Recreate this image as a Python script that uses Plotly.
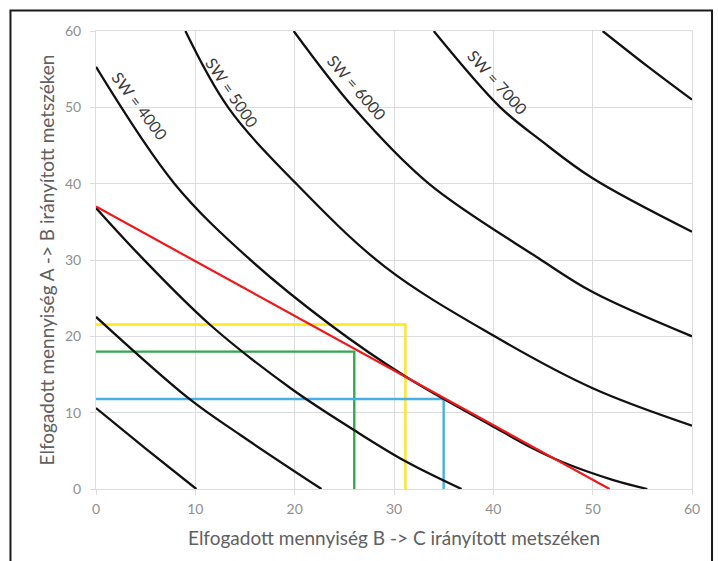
import plotly.graph_objects as go

# ---- data ----
c1_x = [0, 5.0, 10.1]
c1_y = [10.6, 5.3, 0]

c2_x = [0, 9.4, 14.5, 22.7]
c2_y = [22.55, 11.8, 7.1, 0]

c3_x = [0, 4.4, 11.45, 19.7, 26.0, 31.2, 36.8]
c3_y = [36.8, 30.6, 21.55, 13.1, 7.7, 3.6, 0]

sw4000_x = [0, 7.9, 15.3, 23.55, 31.2, 39.7, 44.0, 47.0, 52.0, 55.5]
sw4000_y = [55.3, 40.0, 30.3, 21.55, 14.7, 8.4, 5.3, 3.5, 1.2, 0]

sw5000_x = [9.0, 13.3, 20.0, 29.1, 40.0, 50.0, 60.0]
sw5000_y = [60.0, 50.0, 40.2, 29.1, 20.1, 13.2, 8.3]

sw6000_x = [19.9, 25.9, 33.5, 44.6, 50.0, 60.0]
sw6000_y = [60.0, 50.0, 40.0, 30.2, 25.8, 20.0]

sw7000_x = [34.0, 40.7, 44.75, 50.0, 60.0]
sw7000_y = [60.0, 50.0, 45.7, 40.7, 33.7]

c8_x = [51.0, 55.5, 60.0]
c8_y = [60.0, 55.4, 51.0]

red_x = [0, 51.7]
red_y = [37.0, 0]

box_names = ["yellow", "green", "blue"]
box_x = [31.15, 26.0, 35.0]
box_y = [21.55, 18.0, 11.8]
box_colors = ["#FFE61E", "#33A84E", "#45B0E6"]

label_text = ["SW = 4000", "SW = 5000", "SW = 6000", "SW = 7000"]
label_x = [4.4, 13.7, 26.3, 40.5]
label_y = [50.2, 51.9, 52.6, 53.3]
label_angle = [53, 56, 49, 48]

x_title = "Elfogadott mennyiség B -> C irányított metszéken"
y_title = "Elfogadott mennyiség A -> B irányított metszéken"
tick_vals = [0, 10, 20, 30, 40, 50, 60]

FONT = "Lato"

fig = go.Figure()

for bx, by, bc in zip(box_x, box_y, box_colors):
    fig.add_trace(go.Scatter(x=[0, bx, bx], y=[by, by, 0], mode="lines",
                             line=dict(color=bc, width=2.4), hoverinfo="skip",
                             showlegend=False))

for cx, cy in [(c1_x, c1_y), (c2_x, c2_y), (c3_x, c3_y), (sw4000_x, sw4000_y),
               (sw5000_x, sw5000_y), (sw6000_x, sw6000_y), (sw7000_x, sw7000_y),
               (c8_x, c8_y)]:
    fig.add_trace(go.Scatter(x=cx, y=cy, mode="lines",
                             line=dict(color="#111111", width=2.3, shape="spline", smoothing=1.0),
                             hoverinfo="skip", showlegend=False))

fig.add_trace(go.Scatter(x=red_x, y=red_y, mode="lines",
                         line=dict(color="#F01818", width=2.2),
                         hoverinfo="skip", showlegend=False))

for t, lx, ly, la in zip(label_text, label_x, label_y, label_angle):
    fig.add_annotation(x=lx, y=ly, text=t, textangle=la, showarrow=False,
                       font=dict(family=FONT, size=16, color="#3a3a3a"))

axis_common = dict(range=[0, 60], tickvals=tick_vals, showgrid=True,
                   gridcolor="#DCDCDC", gridwidth=1, zeroline=False,
                   showline=True, linecolor="#DCDCDC", linewidth=1, mirror=True,
                   ticks="outside", ticklen=5, tickcolor="#DCDCDC",
                   tickfont=dict(family=FONT, size=14, color="#8f8f8f"))

fig.update_xaxes(**axis_common, ticklabelstandoff=2,
                 title=dict(text=x_title, standoff=15,
                            font=dict(family=FONT, size=19, color="#606060")))
fig.update_yaxes(**axis_common, ticklabelstandoff=6,
                 title=dict(text=y_title, standoff=5,
                            font=dict(family=FONT, size=19, color="#606060")))

# outer frame
fig.add_shape(type="rect", xref="paper", yref="paper",
              x0=-0.1435, x1=1.0336, y0=-0.17, y1=1.0448,
              line=dict(color="#1a1a1a", width=2))

fig.update_layout(width=718, height=561,
                  margin=dict(l=96, r=26, t=31, b=72),
                  plot_bgcolor="white", paper_bgcolor="white",
                  showlegend=False)

fig.write_html("out.html")
